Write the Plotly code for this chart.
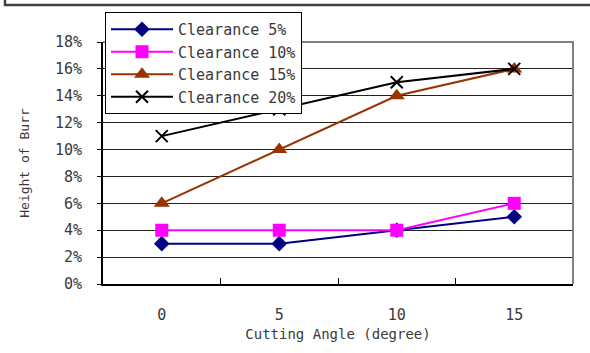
import plotly.graph_objects as go

# Burr height vs cutting angle for four die clearances
angles = ["0", "5", "10", "15"]
clear_5 = [0.03, 0.03, 0.04, 0.05]
clear_10 = [0.04, 0.04, 0.04, 0.06]
clear_15 = [0.06, 0.10, 0.14, 0.16]
clear_20 = [0.11, 0.13, 0.15, 0.16]
y_ticks = [0, 0.02, 0.04, 0.06, 0.08, 0.10, 0.12, 0.14, 0.16, 0.18]

FONT = "DejaVu Sans Mono"
TXT = "#3a3a3a"

series = [
    ("Clearance 5%", clear_5, "#000080", "diamond", 12),
    ("Clearance 10%", clear_10, "#FF00FF", "square", 13),
    ("Clearance 15%", clear_15, "#993300", "triangle-up", 14),
    ("Clearance 20%", clear_20, "#000000", "x-thin", 12),
]

fig = go.Figure()
for name, vals, color, sym, size in series:
    marker = dict(symbol=sym, size=size, color=color)
    if sym == "x-thin":
        marker["line"] = dict(color=color, width=2)
    fig.add_trace(go.Scatter(
        x=angles, y=vals, name=name, mode="lines+markers",
        line=dict(color=color, width=2), marker=marker,
    ))

L, R, T, B = 103, 17, 42, 69
W, H = 590, 353
pw, ph = W - L - R, H - T - B

def px(x):
    return (x - L) / pw

def py(y):
    return (H - B - y) / ph

fig.update_layout(
    width=W, height=H,
    margin=dict(l=L, r=R, t=T, b=B),
    paper_bgcolor="white", plot_bgcolor="white",
    font=dict(family=FONT, size=15, color=TXT),
    showlegend=True,
    legend=dict(
        x=px(105), y=py(12), xanchor="left", yanchor="top",
        bgcolor="white", bordercolor="#000000", borderwidth=1,
        font=dict(family=FONT, size=15, color=TXT),
        itemwidth=62, tracegroupgap=0,
    ),
    xaxis=dict(
        type="category", range=[-0.5, 3.5],
        showgrid=False, showline=True, linecolor="black", linewidth=2,
        ticks="inside", ticklen=6, tickcolor="black", tickwidth=1,
        tickson="boundaries", ticklabelstandoff=16,
        tickfont=dict(family=FONT, size=15, color=TXT),
        title=dict(text="Cutting Angle (degree)", standoff=6,
                   font=dict(family=FONT, size=14, color=TXT)),
        zeroline=False,
    ),
    yaxis=dict(
        range=[0, 0.18], tickvals=y_ticks, tickformat=".0%",
        showgrid=True, gridcolor="#222222", gridwidth=1,
        showline=True, linecolor="black", linewidth=2,
        ticks="outside", ticklen=4, tickcolor="black",
        ticklabelstandoff=12,
        tickfont=dict(family=FONT, size=15, color=TXT),
        title=dict(text="Height of Burr", standoff=22,
                   font=dict(family=FONT, size=13, color=TXT)),
        zeroline=False,
    ),
    shapes=[
        # gray top and right border of the plotting area
        dict(type="path", xref="paper", yref="paper",
             path="M 0 1 L 1 1 L 1 0", line=dict(color="#808080", width=2)),
        # outer chart frame (top and left edges)
        dict(type="path", xref="paper", yref="paper",
             path=f"M {px(5)} {py(-20)} L {px(5)} {py(5)} L {px(600)} {py(5)}",
             line=dict(color="#404040", width=2.5)),
    ],
)

fig.write_html("out.html")
